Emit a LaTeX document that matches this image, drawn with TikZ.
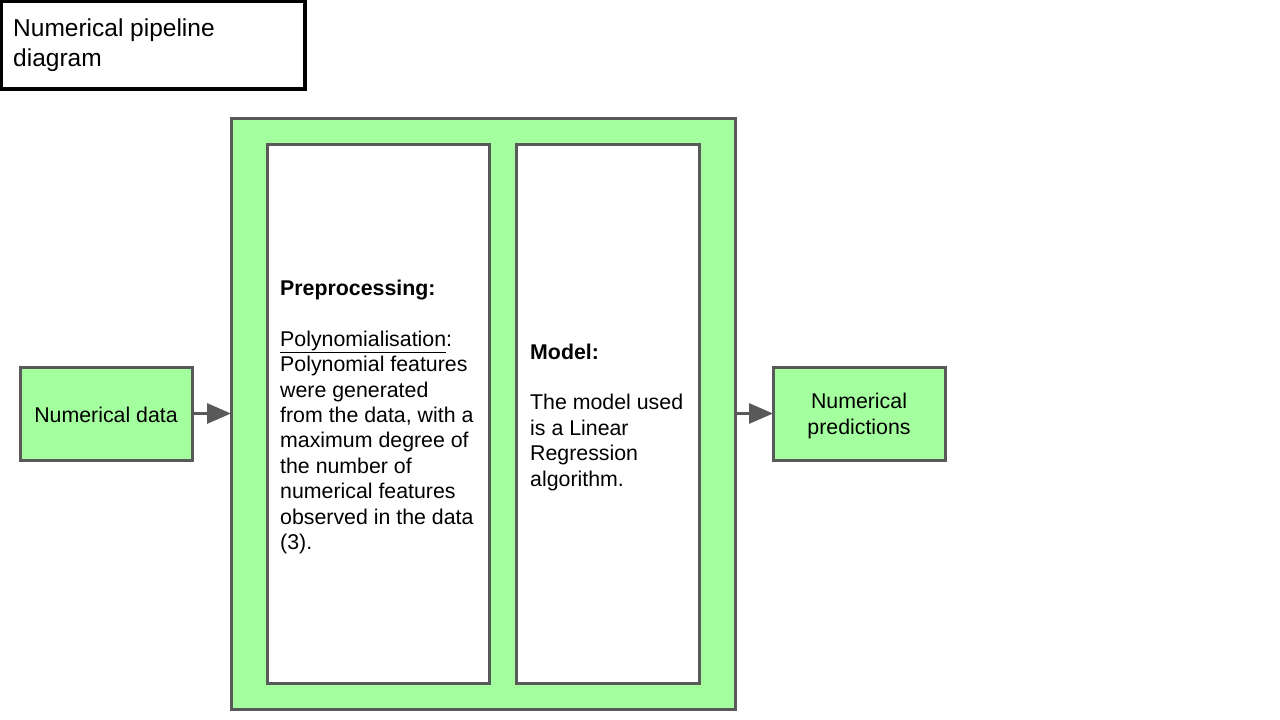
\documentclass[tikz,border=0pt]{standalone}
\usepackage{fontspec}
\setmainfont{Liberation Sans}
\usetikzlibrary{arrows.meta}
\definecolor{boxgreen}{HTML}{A4FF9E}
\definecolor{edgegray}{HTML}{595959}
\begin{document}
\begin{tikzpicture}[x=1pt,y=-1pt,
  gbox/.style={draw=edgegray,line width=3pt,fill=boxgreen,inner sep=0pt,outer sep=0pt},
  wbox/.style={draw=edgegray,line width=3pt,fill=white,inner sep=0pt,outer sep=0pt},
  body/.style={font=\fontsize{21.33}{25.4}\selectfont,inner sep=0pt,align=left},
  conn/.style={draw=edgegray,line width=3pt,-{Triangle[length=24pt,width=20pt]}}]
\useasboundingbox (0,0) rectangle (1280,720);
\fill[white] (0,0) rectangle (1280,720);
% title
\node[draw=black,line width=3.5pt,fill=white,minimum width=304pt,minimum height=88pt,inner sep=0pt] (title) at (153,45) {};
\node[anchor=north west,font=\fontsize{24.5}{30}\selectfont,align=left,inner sep=0pt] (titletext) at (13,19) {Numerical pipeline\\diagram};
% outer box
\node[gbox,minimum width=504pt,minimum height=591pt] (outer) at (483,413.5) {};
\node[wbox,minimum width=222pt,minimum height=539pt] (pre) at (378,413.5) {};
\node[wbox,minimum width=183pt,minimum height=539pt] (model) at (607.5,413.5) {};
\node[body,anchor=west] (pretext) at (280,417) {\textbf{Preprocessing:}\\[25.4pt]\underline{Polynomialisation}:\\Polynomial features\\were generated\\from the data, with a\\maximum degree of\\the number of\\numerical features\\observed in the data\\(3).};
\node[body,anchor=west] (modeltext) at (530,417) {\textbf{Model:}\\[25.4pt]The model used\\is a Linear\\Regression\\algorithm.};
% side boxes
\node[gbox,minimum width=172pt,minimum height=93pt] (data) at (106,413.5) {};
\node[body,align=center] (datatext) at (106,415) {Numerical data};
\node[gbox,minimum width=172pt,minimum height=93pt] (pred) at (859,413.5) {};
\node[body,align=center] (predtext) at (859,416) {Numerical\\predictions};
% connectors
\draw[conn] (data.east) -- (outer.west);
\draw[conn] (outer.east) -- (pred.west);
\end{tikzpicture}
\end{document}
